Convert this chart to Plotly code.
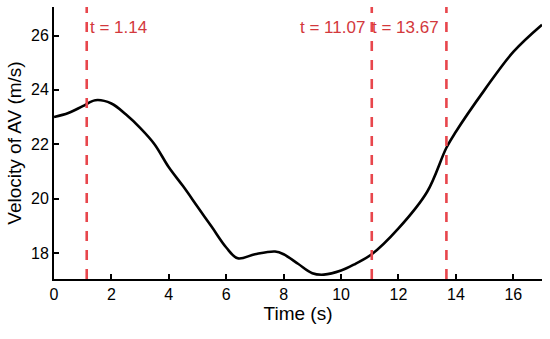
import plotly.graph_objects as go

time_s = [0, 0.5, 1.0, 1.44, 2.0, 2.5, 3.0, 3.5, 4.0, 4.5, 5.0, 5.5, 6.0, 6.4, 7.0, 7.7, 8.0, 8.5, 9.0, 9.4, 10.0, 10.5, 11.07, 12.0, 13.0, 13.67, 14.0, 15.0, 16.0, 17.0]
velocity = [23.0, 23.15, 23.4, 23.62, 23.5, 23.1, 22.6, 22.0, 21.15, 20.45, 19.7, 18.95, 18.2, 17.8, 17.95, 18.05, 17.95, 17.6, 17.25, 17.2, 17.35, 17.6, 17.95, 18.9, 20.25, 21.87, 22.46, 24.0, 25.4, 26.4]
event_times = [1.14, 11.07, 13.67]
event_labels = ["t = 1.14", "t = 11.07", "t = 13.67"]
event_anchor = ["left", "right", "right"]
x_ticks = [0, 2, 4, 6, 8, 10, 12, 14, 16]
y_ticks = [18, 20, 22, 24, 26]

FONT = "Liberation Sans, Arial, sans-serif"

fig = go.Figure()
fig.add_trace(go.Scatter(x=time_s, y=velocity, mode="lines",
                         line=dict(color="black", width=2.6, shape="spline", smoothing=1.0),
                         showlegend=False, hoverinfo="skip"))

for t, lab, anc in zip(event_times, event_labels, event_anchor):
    fig.add_shape(type="line", x0=t, x1=t, y0=0, y1=1, xref="x", yref="y domain",
                  line=dict(color="#e8464c", width=2.6, dash="10px,9px"))
    fig.add_annotation(x=t, y=1, xref="x", yref="y domain", text=lab, showarrow=False,
                       xanchor=anc, yanchor="middle", xshift=1 if anc == "left" else -5, yshift=-20,
                       font=dict(color="#d3383c", size=17, family=FONT))

fig.update_layout(
    width=550, height=339,
    margin=dict(l=54, r=8, t=7, b=60),
    plot_bgcolor="white", paper_bgcolor="white",
    font=dict(family=FONT, size=16, color="black"),
    xaxis=dict(range=[0, 17], tickvals=x_ticks, ticks="inside", ticklen=5, tickwidth=2,
               tickcolor="black", showline=True, linecolor="black", linewidth=2,
               showgrid=False, zeroline=False, automargin=False,
               title=dict(text="Time (s)", standoff=4, font=dict(size=19)),
               tickfont=dict(size=16)),
    yaxis=dict(range=[17.04, 27.05], tickvals=y_ticks, ticks="inside", ticklen=5, tickwidth=2,
               tickcolor="black", showline=True, linecolor="black", linewidth=2,
               showgrid=False, zeroline=False, automargin=False,
               title=dict(text="Velocity of AV (m/s)", standoff=4, font=dict(size=19)),
               tickfont=dict(size=16)),
)

fig.write_html("out.html", config={"displayModeBar": False},
               post_script="document.body.style.margin='0';")
